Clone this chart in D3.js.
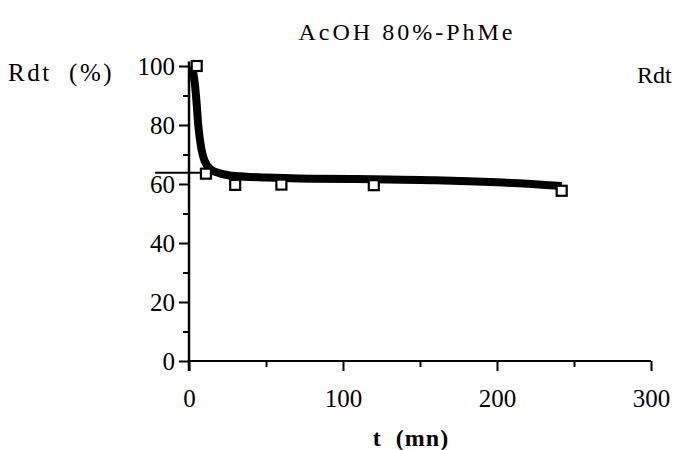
<!DOCTYPE html>
<html><head><meta charset="utf-8">
<script src="https://cdn.jsdelivr.net/npm/d3@7"></script>
<style>body{margin:0;background:#fff}svg{display:block}text{font-family:'Liberation Serif','DejaVu Serif',serif}</style>
</head><body><div id="chart"></div>
<script>
const title = "AcOH  80%-PhMe";
const yLabel = "Rdt  (%)";
const yLabelRight = "Rdt";
const xLabel = "t  (mn)";
const pointT = [5, 11, 30, 60, 120, 242];
const pointY = [100, 63.5, 59.7, 59.8, 59.6, 57.7];
const curveT = [2, 4, 5, 6, 8, 10, 14, 20, 30, 50, 80, 120, 160, 200, 242];
const curveY = [100, 93, 87, 80, 72, 68, 65, 63.6, 62.7, 62.2, 61.8, 61.6, 61.3, 60.6, 59.3];
const strayT = [-22, 8];
const strayY = [63.8, 63.8];
const xTicks = [0, 100, 200, 300];
const xMinor = [50, 150, 250];
const yTicks = [0, 20, 40, 60, 80, 100];
const yMinor = [10, 30, 50, 70, 90];

const W = 675, H = 450;
const svg = d3.select("#chart").append("svg").attr("width", W).attr("height", H);
const x = d3.scaleLinear().domain([0, 300]).range([189, 651]);
const y = d3.scaleLinear().domain([0, 100]).range([361, 66]);
const font = "'Liberation Serif', 'DejaVu Serif', serif";

// axes
const gx = svg.append("g").attr("transform", `translate(0,${y(0)})`)
  .call(d3.axisBottom(x).tickValues(xTicks).tickSize(10).tickPadding(13).tickFormat(d3.format("d")));
const gxm = svg.append("g").attr("transform", `translate(0,${y(0)})`)
  .call(d3.axisBottom(x).tickValues(xMinor).tickSize(6).tickFormat(""));
const gy = svg.append("g").attr("transform", `translate(${x(0)},0)`)
  .call(d3.axisLeft(y).tickValues(yTicks).tickSize(10).tickPadding(4).tickFormat(d3.format("d")));
const gym = svg.append("g").attr("transform", `translate(${x(0)},0)`)
  .call(d3.axisLeft(y).tickValues(yMinor).tickSize(6).tickFormat(""));
[gx, gxm, gy, gym].forEach(g => {
  g.attr("font-family", font);
  g.select(".domain").remove();
  g.selectAll("line").attr("stroke", "#000").attr("stroke-width", 2);
  g.selectAll("text").attr("font-family", font).attr("font-size", 25).attr("fill", "#000");
});
gx.selectAll("text").attr("dy", "0.9em");
gy.selectAll("text").attr("dy", "0.35em");
svg.append("line").attr("x1", x(0)).attr("x2", x(300)).attr("y1", y(0)).attr("y2", y(0))
  .attr("stroke", "#000").attr("stroke-width", 2);
svg.append("line").attr("x1", x(0)).attr("x2", x(0)).attr("y1", y(0) + 10).attr("y2", y(101.5))
  .attr("stroke", "#000").attr("stroke-width", 2.5);

// stray line
const line = d3.line().x(d => x(d[0])).y(d => y(d[1]));
svg.append("path").datum(strayT.map((t, i) => [t, strayY[i]])).attr("d", line)
  .attr("fill", "none").attr("stroke", "#000").attr("stroke-width", 2);

// curve
svg.append("path").datum(curveT.map((t, i) => [t, curveY[i]]))
  .attr("d", line.curve(d3.curveMonotoneX))
  .attr("fill", "none").attr("stroke", "#000").attr("stroke-width", 8).attr("stroke-linejoin", "round");

// points
svg.selectAll("rect.pt").data(pointT.map((t, i) => [t, pointY[i]])).enter().append("rect")
  .attr("class", "pt").attr("x", d => x(d[0]) - 5).attr("y", d => y(d[1]) - 5)
  .attr("width", 10).attr("height", 10).attr("fill", "#fff").attr("stroke", "#000").attr("stroke-width", 2.2);

// texts
svg.append("text").attr("x", 407).attr("y", 40).attr("text-anchor", "middle")
  .attr("font-family", font).attr("font-size", 24).attr("letter-spacing", 3).text(title);
svg.append("text").attr("x", 8).attr("y", 81).attr("font-family", font).attr("font-size", 25)
  .attr("letter-spacing", 2.5).style("white-space", "pre").text(yLabel);
svg.append("text").attr("x", 637).attr("y", 83).attr("font-family", font).attr("font-size", 24)
  .text(yLabelRight);
svg.append("text").attr("x", 411).attr("y", 446).attr("text-anchor", "middle")
  .attr("font-family", font).attr("font-size", 24).attr("font-weight", "bold").attr("letter-spacing", 1)
  .style("white-space", "pre").text(xLabel);
</script></body></html>
